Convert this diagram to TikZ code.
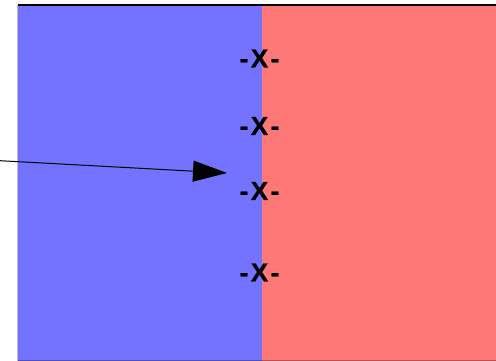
\documentclass[tikz,border=0pt]{standalone}
\usepackage{fontspec}
\setmainfont{Liberation Sans}
\newfontfamily\labfont{Liberation Sans Bold}[FakeBold=0.8]
\usetikzlibrary{arrows.meta}
\definecolor{lblue}{RGB}{115,115,255}
\definecolor{lred}{RGB}{255,120,120}
\newcommand{\xlab}{{\labfont\fontsize{26}{28}\selectfont -\kern2.5pt X\kern2.5pt -}}
\tikzset{
  xlabel/.style={inner sep=0pt, anchor=center},
  pointer/.style={line width=1pt, -{Triangle[length=34pt,width=21pt]}},
}
\begin{document}
\begin{tikzpicture}[x=1pt,y=-1pt]
\useasboundingbox (0,0) rectangle (496,361);
\fill[lblue] (18,5) rectangle (262,361);
\fill[lred] (262,5) rectangle (496,361);
\draw[line width=0.6pt, black!25] (17.5,5) -- (17.5,361);
\draw[line width=0.8pt, lblue!70!black] (18,360.4) -- (262,360.4);
\draw[line width=0.8pt, lred!70!black] (262,360.4) -- (496,360.4);
\draw[line width=2.4pt] (18,5) -- (496,5);
\node[xlabel] (x1) at (259.5,58.5) {\xlab};
\node[xlabel] (x2) at (259.5,126) {\xlab};
\node[xlabel] (x3) at (259.5,191) {\xlab};
\node[xlabel] (x4) at (259.5,272.5) {\xlab};
\coordinate (a0) at (0,160.7);
\coordinate (a1) at (227,173);
\draw[pointer] (a0) -- (a1);
\end{tikzpicture}
\end{document}
